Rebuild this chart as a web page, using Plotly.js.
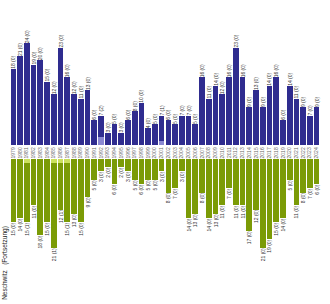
<!DOCTYPE html>
<html><head><meta charset="utf-8">
<script src="https://cdn.plot.ly/plotly-3.0.1.min.js"></script>
<style>html,body{margin:0;padding:0;background:#fff}#chart{width:330px;height:304px}</style>
</head><body><div id="chart"></div>
<script>
const years = ['1979','1980','1981','1982','1983','1984','1985','1986','1987','1988',
  '1989','1990','1991','1992','1993','1994','1995','1996','1997','1998',
  '1999','2000','2001','2002','2003','2004','2005','2006','2007','2008',
  '2009','2010','2011','2012','2013','2014','2015','2016','2017','2018',
  '2019','2020','2021','2022','2023','2024'];
const blueTotal = [18,21,24,19,20,15,12,23,16,12,11,13,6,7,3,5,3,6,8,10,4,5,7,6,5,7,7,5,16,11,14,12,16,23,16,9,13,9,14,16,6,14,11,9,7,9];
const blueExtra = [0,0,0,0,0,0,0,0,0,0,0,0,0,2,0,0,0,0,0,0,0,0,1,0,0,0,0,0,0,0,0,0,0,0,0,0,0,0,0,0,0,0,0,0,0,0];
const greenTotal = [15,14,15,11,18,15,21,12,15,13,15,9,5,3,2,6,2,3,5,6,5,5,3,8,7,3,14,13,8,14,13,11,7,11,11,17,12,21,19,15,14,5,11,8,7,6];
const greenExtra = [0,0,1,0,0,0,1,1,1,0,0,0,0,0,0,0,0,0,0,0,0,0,0,0,0,0,0,0,0,0,0,0,0,0,0,0,0,0,0,0,0,0,0,0,0,0];
const titleText = 'Neschwitz&nbsp;&nbsp;&nbsp;(Fortsetzung)';

const blueLabels = blueTotal.map((v,i)=> v + ' (' + blueExtra[i] + ')');
const greenLabels = greenTotal.map((v,i)=> v + ' (' + greenExtra[i] + ')');
const blueMain = blueTotal.map((v,i)=> v - blueExtra[i]);
const greenMain = greenTotal.map((v,i)=> v - greenExtra[i]);

const lblFont = {family:'Arial, "Liberation Sans", sans-serif', size:5, color:'#333'};
const traces = [
  {type:'bar', x:years, y:blueExtra, xaxis:'x', yaxis:'y', marker:{color:'#8a88d2'}, hoverinfo:'skip'},
  {type:'bar', x:years, y:blueMain, xaxis:'x', yaxis:'y', marker:{color:'#2f2c8f'},
   text:blueLabels, textposition:'outside', textangle:-90, textfont:lblFont, constraintext:'none', cliponaxis:false, hoverinfo:'skip'},
  {type:'bar', x:years, y:greenExtra, xaxis:'x2', yaxis:'y2', marker:{color:'#cbe05c'}, hoverinfo:'skip'},
  {type:'bar', x:years, y:greenMain, xaxis:'x2', yaxis:'y2', marker:{color:'#7b9b06'},
   text:greenLabels, textposition:'outside', textangle:-90, textfont:lblFont, constraintext:'none', cliponaxis:false, hoverinfo:'skip'}
];
const layout = {
  width:330, height:304, margin:{l:10,r:10,t:0,b:0},
  paper_bgcolor:'#fff', plot_bgcolor:'#fff', showlegend:false,
  barmode:'stack', bargap:0.15,
  font:{family:'Arial, "Liberation Sans", sans-serif'},
  xaxis:{domain:[0,1], anchor:'y', type:'category', range:[-0.5,45.5], tickangle:-90,
    tickfont:{size:5, color:'#666'}, ticks:'', showline:false, showgrid:false, zeroline:false, fixedrange:true},
  yaxis:{domain:[0.522,1], range:[0,34.2], visible:false, fixedrange:true},
  xaxis2:{domain:[0,1], anchor:'y2', type:'category', range:[-0.5,45.5], showticklabels:false,
    ticks:'', showline:false, showgrid:false, zeroline:false, fixedrange:true},
  yaxis2:{domain:[0,0.478], range:[34.2,0], visible:false, fixedrange:true},
  annotations:[{text:titleText, xref:'paper', yref:'paper', x:-0.014, y:0.006, xanchor:'center', yanchor:'bottom',
    textangle:-90, showarrow:false, font:{size:6.5, color:'#222'}}]
};
Plotly.newPlot('chart', traces, layout, {staticPlot:true, displayModeBar:false});
</script>
</body></html>
